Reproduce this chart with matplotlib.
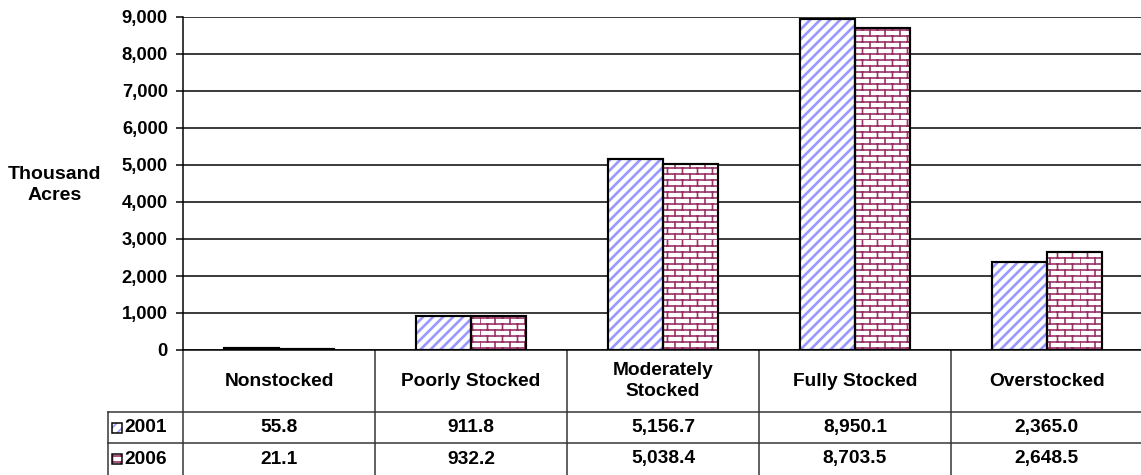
import warnings
import numpy as np
import matplotlib
matplotlib.use('Agg')
import matplotlib.pyplot as plt
import matplotlib.hatch as mhatch
from matplotlib.path import Path
from matplotlib.patches import Rectangle
from matplotlib.transforms import blended_transform_factory

warnings.filterwarnings('ignore')

categories = ['Nonstocked', 'Poorly Stocked', 'Moderately\nStocked', 'Fully Stocked', 'Overstocked']
years = ['2001', '2006']
acres_2001 = [55.8, 911.8, 5156.7, 8950.1, 2365.0]
acres_2006 = [21.1, 932.2, 5038.4, 8703.5, 2648.5]
yticks = [0, 1000, 2000, 3000, 4000, 5000, 6000, 7000, 8000, 9000]

BLUE = '#9999ff'
PLUM = '#993366'


# brick pattern for the 2006 bars ('b' in the hatch string)
class BrickHatch(mhatch.HatchPatternBase):
    def __init__(self, hatch, density):
        self.rows = 20
        self.cols = 8
        if 'b' in hatch:
            self.num_vertices = self.rows * 2 + self.rows * self.cols * 2
        else:
            self.num_vertices = 0

    def set_vertices_and_codes(self, vertices, codes):
        v = []
        for r in range(self.rows):
            y = r / self.rows
            v += [(0, y), (1, y)]
        for r in range(self.rows):
            y0 = r / self.rows
            y1 = (r + 1) / self.rows
            off = 0.5 / self.cols if r % 2 else 0
            for c in range(self.cols):
                x = c / self.cols + off
                v += [(x, y0), (x, y1)]
        vertices[:] = v
        codes[0::2] = Path.MOVETO
        codes[1::2] = Path.LINETO


mhatch._hatch_types.append(BrickHatch)

plt.rcParams['font.family'] = ['Liberation Sans', 'DejaVu Sans']
plt.rcParams['font.weight'] = 'bold'
plt.rcParams['font.size'] = 11.5

DPI = 120
fig = plt.figure(figsize=(1141 / DPI, 475 / DPI), dpi=DPI)
W, H = 1141, 475
ax = fig.add_axes([183 / W, 1 - 350 / H, 958 / W, 333 / H])

x = np.arange(len(categories))
bw = 0.286

with plt.rc_context({'hatch.linewidth': 1.6}):
    ax.bar(x - bw / 2, acres_2001, bw, facecolor='white', edgecolor=BLUE,
           hatch='////', linewidth=0, zorder=3)
with plt.rc_context({'hatch.linewidth': 1.0}):
    ax.bar(x + bw / 2, acres_2006, bw, facecolor='white', edgecolor=PLUM,
           hatch='b', linewidth=0, zorder=3)
ax.bar(x - bw / 2, acres_2001, bw, facecolor='none', edgecolor='black', linewidth=1.3, zorder=4)
ax.bar(x + bw / 2, acres_2006, bw, facecolor='none', edgecolor='black', linewidth=1.3, zorder=4)

ax.set_xlim(-0.5, 4.49)
ax.set_ylim(0, 9000)
ax.set_yticks(yticks)
ax.set_yticklabels(['{:,}'.format(t) for t in yticks])
ax.yaxis.grid(True, color='black', linewidth=0.9)
ax.set_axisbelow(True)
ax.set_xticks([])
ax.tick_params(axis='y', length=4, width=0.9, pad=5, labelsize=11)
for s in ['top', 'right']:
    ax.spines[s].set_visible(False)
ax.spines['left'].set_linewidth(0.9)
ax.spines['bottom'].set_linewidth(0.9)

fig.text(55 / W, 1 - 185 / H, 'Thousand\nAcres', ha='center', va='center',
         fontsize=11.7, fontweight='bold', linespacing=1.25)

# data table under the plot
tr = blended_transform_factory(ax.transData, ax.transAxes)
y_head = -62 / 333
y_row1 = -93 / 333
y_row2 = -125 / 333
x_lab = -0.5 - 75 / 192
line_kw = dict(transform=tr, color='#333333', linewidth=0.9, clip_on=False)

for b in np.arange(len(categories) + 1) - 0.5:
    ax.plot([b, b], [0, y_row2], **line_kw)
ax.plot([x_lab, x_lab], [y_head, y_row2], **line_kw)
for yy in [y_head, y_row1]:
    ax.plot([x_lab, 4.5], [yy, yy], **line_kw)

for i, c in enumerate(categories):
    ax.text(i, y_head / 2, c, transform=tr, ha='center', va='center',
            fontsize=11.5, fontweight='bold', linespacing=1.35)

rows = [acres_2001, acres_2006]
row_mid = [(y_head + y_row1) / 2, (y_row1 + y_row2) / 2]
keys = [dict(edgecolor=BLUE, hatch='////'), dict(edgecolor=PLUM, hatch='b')]
for vals, ym, yr, key in zip(rows, row_mid, years, keys):
    for i, v in enumerate(vals):
        ax.text(i, ym, '{:,.1f}'.format(v), transform=tr, ha='center', va='center',
                fontsize=11.5, fontweight='bold')
    kw = 10 / 192
    kh = 10 / 333
    ax.add_patch(Rectangle((x_lab + 4 / 192, ym - kh / 2), kw, kh, transform=tr,
                           facecolor='white', linewidth=0, clip_on=False, **key))
    ax.add_patch(Rectangle((x_lab + 4 / 192, ym - kh / 2), kw, kh, transform=tr,
                           facecolor='none', edgecolor='black', linewidth=0.9, clip_on=False))
    ax.text(x_lab + 16 / 192, ym, yr, transform=tr, ha='left', va='center',
            fontsize=11.5, fontweight='bold')

fig.savefig('out.png', dpi=DPI)
